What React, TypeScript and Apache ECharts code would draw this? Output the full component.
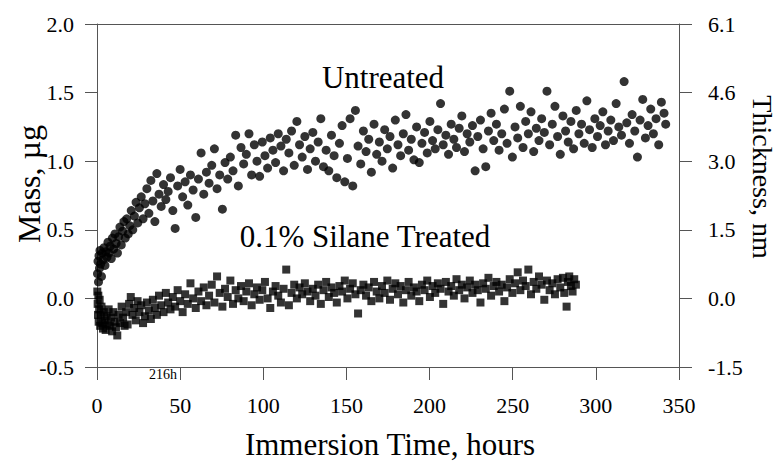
import React, { useEffect, useRef } from "react";
import * as echarts from "echarts";

const FONT = "Liberation Serif";

// x axis: immersion time (hours)
const timeTicks = [0, 50, 100, 150, 200, 250, 300, 350];
// left axis: mass, µg
const massTicks = [-0.5, 0.0, 0.5, 1.0, 1.5, 2.0];
// right axis: thickness, nm (aligned to mass ticks)
const thicknessLabels = ["-1.5", "0.0", "1.5", "3.0", "4.6", "6.1"];

// Untreated: [hours, mass µg]
const untreated: [number, number][] = [
  [0.3,0.18],[0.6,0.27],[0.9,0.12],[1.2,0.31],[1.5,0.22],[1.8,0.35],[2.2,0.25],[2.7,0.16],[3.1,0.33],[3.6,0.28],
  [4.2,0.37],[4.8,0.24],[5.3,0.34],[6.0,0.3],[6.6,0.41],[7.2,0.33],[7.9,0.38],[8.6,0.29],[9.3,0.44],[10.0,0.36],
  [10.8,0.47],[11.5,0.4],[12.3,0.33],[13.0,0.45],[13.8,0.52],[14.6,0.39],[15.4,0.49],[16.2,0.56],[17.0,0.44],[17.9,0.58],
  [18.8,0.47],[19.7,0.53],[20.6,0.64],[21.5,0.5],[22.5,0.6],[23.5,0.7],[24.5,0.55],[25.5,0.66],[26.6,0.74],[27.7,0.58],
  [28.8,0.69],[30.0,0.8],[31.2,0.62],[32.4,0.86],[33.6,0.71],[34.8,0.56],[36.0,0.91],[37.3,0.76],[38.6,0.67],[40.0,0.83],
  [41.4,0.72],[42.8,0.78],[44.2,0.88],[45.6,0.64],[47.0,0.51],[48.5,0.82],[50.0,0.94],[51.5,0.74],[53.0,0.85],[54.6,0.68],
  [56.2,0.9],[57.8,0.79],[59.4,0.59],[61.0,0.87],[62.6,1.06],[64.2,0.76],[65.8,0.92],[67.4,0.84],[69.0,0.97],[70.6,1.09],
  [72.2,0.8],[73.8,0.9],[75.4,0.65],[77.0,0.99],[78.6,0.87],[80.2,1.03],[81.8,0.93],[83.4,1.19],[85.0,0.82],[86.6,1.1],
  [88.2,0.98],[89.8,1.05],[91.4,1.2],[93.0,0.9],[94.6,1.12],[96.2,1.0],[97.8,0.89],[99.4,1.14],[101.0,1.04],[102.6,0.95],
  [104.2,1.17],[105.8,1.08],[107.4,0.99],[109.0,1.2],[110.6,1.11],[112.2,0.93],[113.8,1.16],[115.4,1.06],[117.0,1.22],[118.6,0.97],
  [120.2,1.29],[121.8,1.12],[123.4,1.03],[125.0,1.18],[126.6,0.94],[128.2,1.09],[129.8,1.21],[131.4,1.0],[133.0,1.14],[134.6,1.31],
  [136.2,0.96],[137.8,1.08],[139.4,0.93],[141.0,1.19],[142.6,1.04],[144.2,0.88],[145.8,1.13],[147.4,1.26],[149.0,0.85],[150.6,1.02],
  [152.2,1.31],[153.8,0.82],[155.4,1.37],[157.0,1.11],[158.6,0.98],[160.2,1.22],[161.8,1.07],[163.4,1.16],[165.0,0.92],[166.6,1.27],
  [168.2,1.05],[169.8,1.14],[171.4,1.0],[173.0,1.23],[174.6,1.09],[176.2,1.18],[177.8,0.95],[179.4,1.3],[181.0,1.12],[182.6,1.04],
  [184.2,1.2],[185.8,1.34],[187.4,1.08],[189.0,1.16],[190.6,1.01],[192.2,1.25],[193.8,0.99],[195.4,1.13],[197.0,1.21],[198.6,1.06],
  [200.2,1.29],[201.8,1.15],[203.4,1.09],[205.0,1.23],[206.6,1.42],[208.2,1.12],[209.8,1.19],[211.4,1.05],[213.0,1.27],[214.6,1.16],
  [216.2,1.1],[217.8,1.24],[219.4,1.33],[221.0,1.07],[222.6,1.2],[224.2,1.14],[225.8,1.26],[227.4,0.93],[229.0,1.18],[230.6,1.3],
  [232.2,1.09],[233.8,0.96],[235.4,1.22],[237.0,1.35],[238.6,1.15],[240.2,1.27],[241.8,1.08],[243.4,1.2],[245.0,1.38],[246.6,1.13],
  [248.2,1.51],[249.8,1.03],[251.4,1.25],[253.0,1.17],[254.6,1.4],[256.2,1.1],[257.8,1.29],[259.4,1.2],[261.0,1.36],[262.6,1.07],
  [264.2,1.24],[265.8,1.15],[267.4,1.31],[269.0,1.21],[270.6,1.51],[272.2,1.12],[273.8,1.27],[275.4,1.4],[277.0,1.18],[278.6,1.05],
  [280.2,1.33],[281.8,1.22],[283.4,1.14],[285.0,1.29],[286.6,1.09],[288.2,1.37],[289.8,1.2],[291.4,1.27],[293.0,1.13],[294.6,1.44],
  [296.2,1.23],[297.8,1.1],[299.4,1.31],[301.0,1.18],[302.6,1.26],[304.2,1.36],[305.8,1.12],[307.4,1.22],[309.0,1.3],[310.6,1.15],
  [312.2,1.42],[313.8,1.25],[315.4,1.19],[317.0,1.58],[318.6,1.28],[320.2,1.13],[321.8,1.34],[323.4,1.22],[325.0,1.03],[326.6,1.3],
  [328.2,1.45],[329.8,1.17],[331.4,1.26],[333.0,1.38],[334.6,1.2],[336.2,1.31],[337.8,1.12],[339.4,1.43],[341.0,1.35],[342.0,1.27]
];

// 0.1% Silane Treated: [hours, mass µg]
const silaneTreated: [number, number][] = [
  [0.2,0.05],[0.4,-0.04],[0.6,-0.12],[0.8,0.02],[1.0,-0.17],[1.3,-0.08],[1.6,-0.01],[1.9,-0.2],[2.3,-0.12],[2.7,-0.06],
  [3.1,-0.18],[3.6,-0.22],[4.1,-0.1],[4.6,-0.16],[5.2,-0.23],[5.8,-0.13],[6.4,-0.19],[7.0,-0.08],[7.7,-0.2],[8.4,-0.14],
  [9.1,-0.24],[9.8,-0.1],[10.6,-0.17],[11.4,-0.21],[12.2,-0.27],[13.0,-0.12],[13.9,-0.18],[14.8,-0.06],[15.7,-0.14],[16.6,-0.2],
  [17.5,-0.1],[18.4,-0.19],[19.3,-0.04],[20.3,0.01],[21.3,-0.12],[22.3,-0.07],[23.3,-0.16],[24.4,-0.02],[25.5,-0.1],[26.6,-0.05],
  [27.7,-0.18],[28.8,-0.13],[30.0,-0.03],[31.2,-0.09],[32.4,-0.15],[33.6,-0.01],[34.8,-0.07],[36.0,-0.12],[37.3,0.02],[38.6,-0.05],
  [40.0,-0.1],[41.4,0.04],[42.8,-0.03],[44.2,-0.08],[45.6,0.01],[47.0,-0.06],[48.5,0.06],[50.0,-0.02],[51.5,-0.1],[53.0,0.03],
  [54.6,-0.04],[56.2,0.11],[57.8,0.0],[59.4,-0.07],[61.0,0.05],[62.6,-0.02],[64.2,0.08],[65.8,-0.05],[67.4,0.02],[69.0,0.1],
  [70.6,-0.03],[72.2,0.16],[73.8,0.04],[75.4,-0.06],[77.0,0.07],[78.6,0.01],[80.2,0.13],[81.8,-0.04],[83.4,0.06],[85.0,0.0],
  [86.6,0.09],[88.2,-0.02],[89.8,0.05],[91.4,0.11],[93.0,-0.05],[94.6,0.03],[96.2,0.08],[97.8,-0.01],[99.4,0.06],[101.0,0.12],
  [102.6,0.0],[104.2,-0.07],[105.8,0.05],[107.4,0.09],[109.0,0.02],[110.6,-0.03],[112.2,0.07],[113.8,0.21],[115.4,-0.05],[117.0,0.04],
  [118.6,0.1],[120.2,0.0],[121.8,0.08],[123.4,0.03],[125.0,0.11],[126.6,0.05],[128.2,-0.02],[129.8,0.07],[131.4,0.02],[133.0,0.1],
  [134.6,-0.04],[136.2,0.06],[137.8,0.12],[139.4,0.01],[141.0,0.08],[142.6,0.04],[144.2,-0.03],[145.8,0.09],[147.4,0.05],[149.0,0.13],
  [150.6,0.0],[152.2,0.07],[153.8,0.11],[155.4,0.03],[157.0,-0.11],[158.6,0.06],[160.2,0.1],[161.8,0.02],[163.4,0.08],[165.0,-0.02],
  [166.6,0.12],[168.2,0.05],[169.8,0.0],[171.4,0.09],[173.0,0.04],[174.6,0.13],[176.2,-0.01],[177.8,0.07],[179.4,0.11],[181.0,0.03],
  [182.6,0.09],[184.2,-0.03],[185.8,0.06],[187.4,0.12],[189.0,0.02],[190.6,0.08],[192.2,0.05],[193.8,-0.02],[195.4,0.1],[197.0,0.06],
  [198.6,0.13],[200.2,0.01],[201.8,0.09],[203.4,0.04],[205.0,0.11],[206.6,0.07],[208.2,-0.04],[209.8,0.12],[211.4,0.05],[213.0,0.09],
  [214.6,0.02],[216.2,0.14],[217.8,0.06],[219.4,0.1],[221.0,0.0],[222.6,0.08],[224.2,0.13],[225.8,0.04],[227.4,0.1],[229.0,0.06],
  [230.6,-0.03],[232.2,0.11],[233.8,0.07],[235.4,0.15],[237.0,0.02],[238.6,0.09],[240.2,0.12],[241.8,0.05],[243.4,0.1],[245.0,-0.02],
  [246.6,0.08],[248.2,0.14],[249.8,0.04],[251.4,0.11],[253.0,0.19],[254.6,0.06],[256.2,0.13],[257.8,0.09],[259.4,0.21],[261.0,0.03],
  [262.6,0.12],[264.2,0.07],[265.8,0.16],[267.4,0.1],[269.0,-0.01],[270.6,0.13],[272.2,0.06],[273.8,0.11],[275.4,0.03],[277.0,0.14],
  [278.6,0.08],[280.2,0.15],[281.0,0.04],[282.4,-0.06],[283.2,0.12],[284.0,0.16],[285.0,0.09],[286.0,0.05],[287.0,0.14],[288.0,0.1]
];

const AXIS_COLOR = "#555";

export default function App() {
  const ref = useRef<HTMLDivElement>(null);
  useEffect(() => {
    if (!ref.current) return;
    const chart = echarts.init(ref.current, undefined, { renderer: "svg" });
    const tickLabel = { fontFamily: FONT, fontSize: 22, color: "#000" };
    const txt = (text: string, size: number, align: string = "center") => ({
      text,
      fontFamily: FONT,
      fontSize: size,
      fill: "#000",
      textAlign: align,
      textVerticalAlign: "middle",
    });
    chart.setOption({
      animation: false,
      backgroundColor: "#fff",
      grid: { left: 97, right: 101, top: 24, bottom: 94, containLabel: false },
      xAxis: [
        {
          type: "value",
          position: "bottom",
          min: timeTicks[0],
          max: timeTicks[timeTicks.length - 1],
          interval: 50,
          splitLine: { show: false },
          axisLine: { show: true, onZero: false, lineStyle: { color: AXIS_COLOR, width: 1 } },
          axisTick: { show: true, inside: false, length: 13, lineStyle: { color: AXIS_COLOR } },
          axisLabel: { ...tickLabel, margin: 27 },
        },
        {
          type: "value",
          position: "top",
          min: timeTicks[0],
          max: timeTicks[timeTicks.length - 1],
          splitLine: { show: false },
          axisLine: { show: true, onZero: false, lineStyle: { color: AXIS_COLOR, width: 1 } },
          axisTick: { show: false },
          axisLabel: { show: false },
        },
      ],
      yAxis: [
        {
          type: "value",
          position: "left",
          min: massTicks[0],
          max: massTicks[massTicks.length - 1],
          interval: 0.5,
          splitLine: { show: false },
          axisLine: { show: true, onZero: false, lineStyle: { color: AXIS_COLOR, width: 1 } },
          axisTick: { show: true, inside: false, length: 12, lineStyle: { color: AXIS_COLOR } },
          axisLabel: { ...tickLabel, margin: 23, formatter: (v: number) => v.toFixed(1) },
        },
        {
          type: "value",
          position: "right",
          min: massTicks[0],
          max: massTicks[massTicks.length - 1],
          interval: 0.5,
          splitLine: { show: false },
          axisLine: { show: true, onZero: false, lineStyle: { color: AXIS_COLOR, width: 1 } },
          axisTick: { show: true, inside: false, length: 13, lineStyle: { color: AXIS_COLOR } },
          axisLabel: {
            ...tickLabel,
            margin: 29,
            formatter: (v: number) => {
              const i = massTicks.findIndex((m) => Math.abs(m - v) < 1e-6);
              return i >= 0 ? thicknessLabels[i] : "";
            },
          },
        },
      ],
      series: [
        {
          name: "Untreated",
          type: "scatter",
          xAxisIndex: 0,
          yAxisIndex: 0,
          symbol: "circle",
          symbolSize: 9,
          itemStyle: { color: "#000" },
          data: untreated,
        },
        {
          name: "0.1% Silane Treated",
          type: "scatter",
          xAxisIndex: 0,
          yAxisIndex: 0,
          symbol: "rect",
          symbolSize: 8,
          itemStyle: { color: "#000" },
          data: silaneTreated,
        },
      ],
      graphic: [
        { type: "text", x: 383, y: 77, style: txt("Untreated", 31) },
        { type: "text", x: 365, y: 236, style: txt("0.1% Silane Treated", 31) },
        { type: "text", x: 177, y: 374, style: txt("216h", 14, "right") },
        { type: "text", x: 390, y: 444, style: txt("Immersion Time, hours", 31) },
        { type: "text", x: 29, y: 184, rotation: Math.PI / 2, style: txt("Mass, µg", 32) },
        { type: "text", x: 762, y: 177, rotation: -Math.PI / 2, style: txt("Thickness, nm", 28) },
      ],
    });
    return () => chart.dispose();
  }, []);
  return (
    <div
      ref={ref}
      style={{ position: "fixed", left: 0, top: 0, width: 780, height: 461, background: "#fff" }}
    />
  );
}
